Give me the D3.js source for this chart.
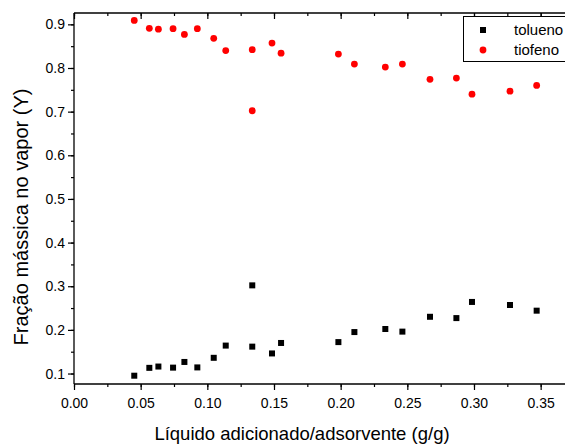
<!DOCTYPE html>
<html>
<head>
<meta charset="utf-8">
<script src="https://cdn.jsdelivr.net/npm/d3@7/dist/d3.min.js"></script>
<style>
  html, body { margin: 0; padding: 0; background: #fff; }
  svg { display: block; font-family: "Liberation Sans", Arial, sans-serif; }
</style>
</head>
<body>
<svg id="chart" width="565" height="445"></svg>
<script>
// razão líquido adicionado / adsorvente (g/g)
const xVals = [0.0452, 0.0565, 0.0633, 0.0743, 0.0828, 0.0925, 0.1048, 0.1138, 0.1337, 0.1337, 0.1485,
               0.1553, 0.1983, 0.2103, 0.2335, 0.2463, 0.267, 0.2868, 0.2985, 0.327, 0.347];
const tolueno = [0.095, 0.113, 0.116, 0.1135, 0.1265, 0.114, 0.136, 0.164, 0.1616, 0.302, 0.146,
                 0.170, 0.172, 0.195, 0.202, 0.196, 0.230, 0.227, 0.264, 0.257, 0.244];
const tiofeno = [0.909, 0.891, 0.889, 0.890, 0.877, 0.890, 0.868, 0.840, 0.842, 0.702, 0.857,
                 0.834, 0.832, 0.809, 0.802, 0.809, 0.774, 0.777, 0.740, 0.747, 0.760];
const xTicks = [0, 0.05, 0.10, 0.15, 0.20, 0.25, 0.30, 0.35];
const yTicks = [0.1, 0.2, 0.3, 0.4, 0.5, 0.6, 0.7, 0.8, 0.9];
const seriesNames = ["tolueno", "tiofeno"];

const svg = d3.select("#chart");
const plotL = 74, plotT = 13, plotB = 384;

const x = d3.scaleLinear().domain([0, 0.37]).range([plotL, plotL + 0.37 * 1333.3]);
const y = d3.scaleLinear().domain([0.076, 0.926]).range([plotB, plotT]);

const minorX = d3.range(0, 0.37, 0.025);
const minorY = d3.range(0.1, 0.926, 0.05);

// eixo inferior
const gx = svg.append("g").attr("transform", `translate(0,${plotB})`);
gx.append("g").call(d3.axisBottom(x).tickValues(minorX).tickSize(3).tickFormat(""));
gx.append("g").call(d3.axisBottom(x).tickValues(xTicks).tickSize(6).tickFormat(d3.format(".2f")));

// eixo superior (ticks para dentro)
const gt = svg.append("g").attr("transform", `translate(0,${plotT})`);
gt.append("g").call(d3.axisBottom(x).tickValues(minorX).tickSize(3).tickFormat(""));
gt.append("g").call(d3.axisBottom(x).tickValues(xTicks).tickSize(6).tickFormat(""));

// eixo esquerdo
const gy = svg.append("g").attr("transform", `translate(${plotL},0)`);
gy.append("g").call(d3.axisLeft(y).tickValues(minorY).tickSize(3).tickFormat(""));
gy.append("g").call(d3.axisLeft(y).tickValues(yTicks).tickSize(6).tickFormat(d3.format(".1f")));

svg.selectAll(".domain").remove();
svg.selectAll(".tick line").attr("stroke", "#000").attr("stroke-width", 1.2);
svg.selectAll(".tick text").attr("fill", "#000").style("font-size", "14px")
  .style("font-family", "'Liberation Sans', Arial, sans-serif");
gx.selectAll(".tick text").attr("dy", "1.05em");
gy.selectAll(".tick text").attr("x", -9);

// moldura (lado direito fica fora da janela)
const frame = [[plotL, plotB, 600, plotB], [plotL, plotT, 600, plotT], [plotL, plotT, plotL, plotB]];
svg.append("g").selectAll("line").data(frame).join("line")
  .attr("x1", d => d[0]).attr("y1", d => d[1]).attr("x2", d => d[2]).attr("y2", d => d[3])
  .attr("stroke", "#000").attr("stroke-width", 1.3);

// pontos
const sq = 6;
svg.append("g").selectAll("rect").data(xVals).join("rect")
  .attr("x", d => x(d) - sq / 2)
  .attr("y", (d, i) => y(tolueno[i]) - sq / 2)
  .attr("width", sq).attr("height", sq).attr("fill", "#000");

svg.append("g").selectAll("circle").data(xVals).join("circle")
  .attr("cx", d => x(d))
  .attr("cy", (d, i) => y(tiofeno[i]))
  .attr("r", 3.4).attr("fill", "#ff0000");

// legenda
const lg = svg.append("g");
lg.append("rect").attr("x", 463.5).attr("y", 16.5).attr("width", 120).attr("height", 45)
  .attr("fill", "#fff").attr("stroke", "#000").attr("stroke-width", 1);
lg.append("rect").attr("x", 483 - sq / 2).attr("y", 30 - sq / 2).attr("width", sq).attr("height", sq).attr("fill", "#000");
lg.append("circle").attr("cx", 483).attr("cy", 50).attr("r", 3.4).attr("fill", "#ff0000");
seriesNames.forEach((n, i) => {
  lg.append("text").attr("x", 514).attr("y", 35 + i * 20).text(n)
    .style("font-size", "15px").attr("fill", "#000");
});

// títulos
svg.append("text").attr("x", 302).attr("y", 440).attr("text-anchor", "middle")
  .style("font-size", "18.5px").text("Líquido adicionado/adsorvente (g/g)");
svg.append("text").attr("transform", "translate(28,217) rotate(-90)").attr("text-anchor", "middle")
  .style("font-size", "20px").text("Fração mássica no vapor (Y)");
</script>
</body>
</html>
